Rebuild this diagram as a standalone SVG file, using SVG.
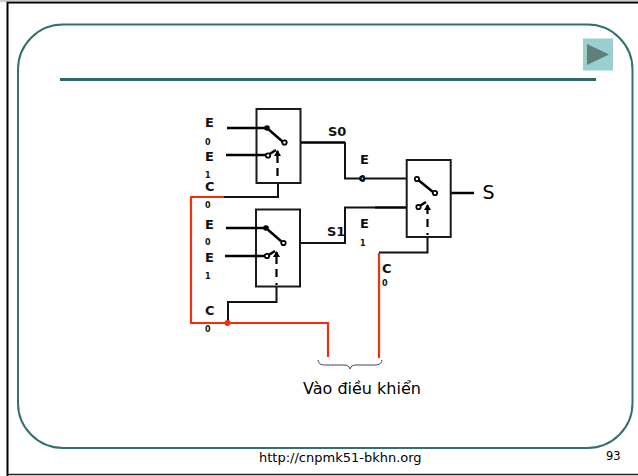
<svg xmlns="http://www.w3.org/2000/svg" width="638" height="476" viewBox="0 0 638 476">
<style>
.box{fill:#fff;stroke:#1a1a1a;stroke-width:2}
.w{fill:none;stroke:#000;stroke-width:2.500}
.t{fill:none;stroke:#111;stroke-width:2}
.r{fill:none;stroke:#f0300a;stroke-width:2.200}
.o{fill:#fff;stroke:#000;stroke-width:1.800}
.d{fill:none;stroke:#000;stroke-width:2.200}
text{font-family:"DejaVu Sans",Verdana,sans-serif;fill:#000}
.b{font-weight:700;font-size:13px;fill:#111}
.s{font-weight:700;font-size:8px;fill:#111}
</style>
<defs>
<marker id="ah" markerWidth="6" markerHeight="7" refX="5" refY="3.500" orient="auto" markerUnits="userSpaceOnUse"><path d="M0,0L6,3.500L0,7Z" fill="#000"/></marker>
</defs>
<rect width="638" height="476" fill="#fff"/>
<path d="M7.500 476V2.500H638" fill="none" stroke="#000" stroke-width="2"/>
<path d="M0 1H638" stroke="#9a9a9a" stroke-width="1"/>
<path d="M7 474.500H638" stroke="#222" stroke-width="1.500"/>
<g id="frame">
<rect x="18" y="24.500" width="614.500" height="423.500" rx="45" ry="45" fill="none" stroke="#357070" stroke-width="2"/>
<rect x="60" y="78" width="536" height="3" fill="#2f6666"/>
</g>
<g id="button">
<rect x="583" y="38.500" width="30" height="32" fill="#99cfcc"/>
<path d="M587 44L609 54.500L587 65Z" fill="#5f7f7b"/>
</g>
<g id="connectors">
<path class="w" d="M284 142.500H345"/>
<path class="t" d="M345 142V178.500H417"/>
<path class="t" d="M284 243H345V207.500H375"/>
<path class="w" d="M375 207.500H418"/>
<path class="t" d="M278 183V197H224"/>
<path class="r" d="M224 197H191V323H328V357"/>
<path class="t" d="M276.500 287V302H228V323"/>
<path class="t" d="M427.500 237V252.500H379"/>
<path class="r" d="M379 253V358"/>
<circle cx="227.500" cy="323" r="3" fill="#f0300a"/>
<circle cx="362" cy="178.500" r="2" class="o"/>
<path class="w" d="M435 193H474"/>
</g>
<g id="mux1">
<rect class="box" x="256.500" y="109" width="44" height="74"/>
<path class="w" d="M227 128H267L283 142M226 155H268L276 150"/>
<circle cx="267" cy="128" r="2.800"/>
<circle cx="268" cy="155.500" r="2.200" class="o"/>
<circle cx="284.500" cy="142.500" r="2.200" class="o"/>
<path class="d" d="M277.500 176V168M277.500 163V151" marker-end="url(#ah)"/>
</g>
<g id="mux2">
<rect class="box" x="256" y="209.500" width="44" height="77"/>
<path class="w" d="M226 228H266L282 242M225 256H267L275 251"/>
<circle cx="266" cy="228" r="2.800"/>
<circle cx="267" cy="256" r="2.200" class="o"/>
<circle cx="283.500" cy="243" r="2.200" class="o"/>
<path class="d" d="M276.500 285V283M276.500 277V269M276.500 264V252" marker-end="url(#ah)"/>
</g>
<g id="mux3">
<rect class="box" x="406.700" y="160" width="44" height="77"/>
<path class="w" d="M417 179L433 192M418 207L426 202"/>
<circle cx="417" cy="179" r="2.200" class="o"/>
<circle cx="418.500" cy="207" r="2.200" class="o"/>
<circle cx="435" cy="193" r="2.200" class="o"/>
<path class="d" d="M427.500 235V233M427.500 227V219M427.500 214V205" marker-end="url(#ah)"/>
</g>
<g id="labels">
<text class="b" x="205" y="127">E</text><text class="s" x="205" y="145">0</text>
<text class="b" x="205" y="161">E</text><text class="s" x="205" y="178">1</text>
<text class="b" x="205" y="190.500">C</text><text class="s" x="205" y="208">0</text>
<text class="b" x="205" y="229">E</text><text class="s" x="205" y="245">0</text>
<text class="b" x="205" y="262">E</text><text class="s" x="205" y="279">1</text>
<text class="b" x="205" y="315">C</text><text class="s" x="205" y="332">0</text>
<text class="b" x="360" y="164">E</text><text class="s" x="360" y="181.500">0</text>
<text class="b" x="360" y="228">E</text><text class="s" x="360" y="246">1</text>
<text class="b" x="382" y="273">C</text><text class="s" x="382" y="286">0</text>
<text class="b" x="328" y="136">S0</text>
<text class="b" x="327" y="236">S1</text>
<text x="482.500" y="199" font-size="19">S</text>
<text x="303" y="393.500" font-size="16">Vào điều khiển</text>
<text x="259" y="462" font-size="13">http://cnpmk51-bkhn.org</text>
<text x="606" y="460" font-size="11.500">93</text>
</g>
<g id="brace">
<path d="M318 360C319 365 322 365 326 365H344C347 365 349 366 350 369C351 366 353 365 356 365H374C378 365 381 365 382 360" fill="none" stroke="#444" stroke-width="1"/>
</g>
</svg>
